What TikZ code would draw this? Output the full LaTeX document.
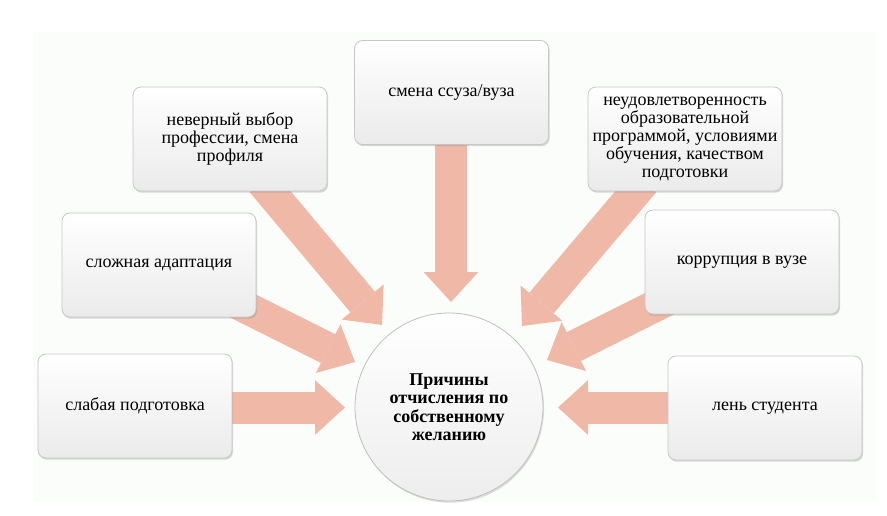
\documentclass[tikz,border=0pt]{standalone}
\usepackage{fontspec}
\setmainfont{Liberation Serif}
\usetikzlibrary{arrows.meta,shadows}
\pgfdeclarelayer{bg}
\pgfdeclarelayer{arr}
\pgfsetlayers{bg,arr,main}
\definecolor{salmon}{RGB}{240,184,166}
\definecolor{panel}{RGB}{251,253,250}
\begin{document}
\begin{tikzpicture}[x=0.75pt,y=-0.75pt,
  reason/.style={rectangle, rounded corners=6pt, draw=black!22, line width=0.6pt,
    top color=white, bottom color=black!8, minimum width=145.5pt, minimum height=78pt,
    align=center, inner sep=2pt, font=\fontsize{13.5}{13.6}\selectfont,
    drop shadow={shadow xshift=0.8pt, shadow yshift=-1.3pt, opacity=0.3, fill=black!50}},
  hub/.style={circle, draw=black!25, line width=0.6pt, top color=white, bottom color=black!7,
    minimum size=141pt, inner sep=0pt, align=center, font=\fontsize{13.5}{13.9}\selectfont\bfseries,
    drop shadow={shadow xshift=0.8pt, shadow yshift=-1.3pt, opacity=0.25, fill=black!50}},
  bigarrow/.style={draw=salmon, line width=24pt,
    -{Triangle[width=41pt,length=22.5pt,line width=0pt]}}
]
\useasboundingbox (0,0) rectangle (887,516);
\begin{pgfonlayer}{bg}
  \fill[white] (0,0) rectangle (887,516);
  \fill[panel] (33,32) rectangle (878,502);
\end{pgfonlayer}

\node[reason] (btop) at (451.5,92.5) {смена ссуза/вуза};
\node[reason] (bul) at (230,139) {неверный выбор\\профессии, смена\\профиля};
\node[reason] (bur) at (685,139) {неудовлетворенность\\образовательной\\программой, условиями\\обучения, качеством\\подготовки};
\node[reason] (bml) at (159,265) {сложная адаптация};
\node[reason] (bmr) at (742,262) {коррупция в вузе};
\node[reason] (bbl) at (135,406) {слабая подготовка};
\node[reason] (bbr) at (765,408) {лень студента};
\node[hub] (hub) at (449,407) {Причины\\отчисления по\\собственному\\желанию};

\coordinate (stop) at (451,130);   \coordinate (ttop) at (451,302);
\coordinate (sul) at (262,182);    \coordinate (tul) at (382,325);
\coordinate (sur) at (644,182);    \coordinate (tur) at (522,326);
\coordinate (sml) at (235,302);    \coordinate (tml) at (355,362);
\coordinate (smr) at (667,300);    \coordinate (tmr) at (547,360);
\coordinate (sbl) at (220,407.5);  \coordinate (tbl) at (345,407.5);
\coordinate (sbr) at (680,407.5);  \coordinate (tbr) at (558,407.5);

\begin{pgfonlayer}{arr}
  \draw[bigarrow] (stop) -- (ttop);
  \draw[bigarrow] (sul) -- (tul);
  \draw[bigarrow] (sur) -- (tur);
  \draw[bigarrow] (sml) -- (tml);
  \draw[bigarrow] (smr) -- (tmr);
  \draw[bigarrow] (sbl) -- (tbl);
  \draw[bigarrow] (sbr) -- (tbr);
\end{pgfonlayer}
\end{tikzpicture}
\end{document}
